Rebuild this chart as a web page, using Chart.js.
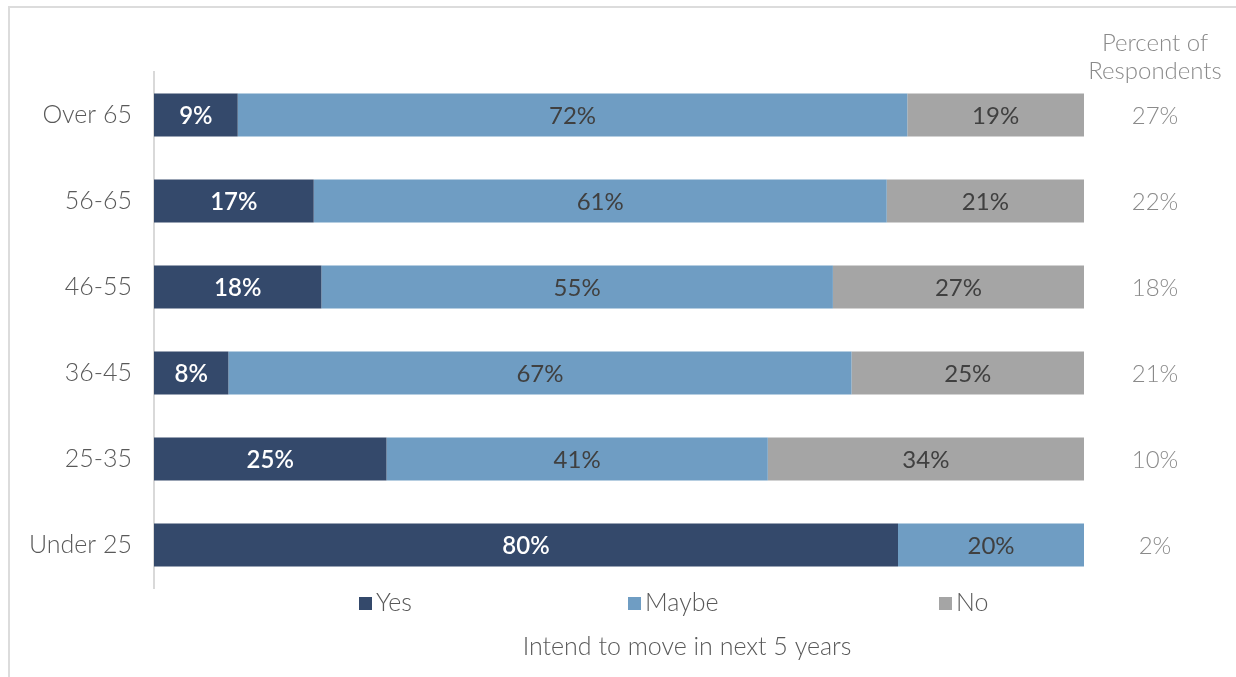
<!DOCTYPE html>
<html>
<head>
<meta charset="utf-8">
<script src="https://cdn.jsdelivr.net/npm/chart.js@4.4.0/dist/chart.umd.min.js"></script>
<style>
  html, body { margin: 0; padding: 0; background: #fff; }
  #wrap {
    position: absolute; left: 8px; top: 6px; width: 1228px; height: 671px;
    border-left: 2px solid #dcdcdc; border-top: 2px solid #dcdcdc; box-sizing: border-box;
  }
  canvas { display: block; }
</style>
</head>
<body>
<div id="wrap"><canvas id="move-chart"></canvas></div>
<script>
const ageGroups = ["Over 65", "56-65", "46-55", "36-45", "25-35", "Under 25"];
const yes = [9, 17, 18, 8, 25, 80];
const maybe = [72, 61, 55, 67, 41, 20];
const no = [19, 21, 27, 25, 34, 0];
const respondents = [27, 22, 18, 21, 10, 2];

const FONT = "Lato, 'Open Sans', sans-serif";

// each row is drawn as its share of 100 so all bars end together
const rowTotals = ageGroups.map((_, i) => yes[i] + maybe[i] + no[i]);
const norm = (arr) => arr.map((v, i) => (v / rowTotals[i]) * 100);

const series = [
  { label: "Yes", raw: yes, color: "#34496b", text: "#ffffff", weight: "600" },
  { label: "Maybe", raw: maybe, color: "#6f9dc3", text: "#404040", weight: "normal" },
  { label: "No", raw: no, color: "#a5a5a5", text: "#404040", weight: "normal" },
];

const extras = {
  id: "extras",
  afterDatasetsDraw(chart) {
    const ctx = chart.ctx;
    const y = chart.scales.y;
    ctx.save();
    ctx.textBaseline = "middle";
    ctx.textAlign = "center";

    // labels inside the bar segments
    chart.data.datasets.forEach((ds, di) => {
      const meta = chart.getDatasetMeta(di);
      meta.data.forEach((bar, i) => {
        const v = series[di].raw[i];
        if (!v) return;
        ctx.fillStyle = series[di].text;
        ctx.font = series[di].weight + " 24px " + FONT;
        ctx.fillText(v + "%", (bar.x + bar.base) / 2, bar.y + 1);
      });
    });

    // percent of respondents column
    ctx.fillStyle = "#8a8a8a";
    ctx.font = "300 24px " + FONT;
    const cx = chart.chartArea.right + 71;
    ctx.fillText("Percent of", cx, 35);
    ctx.fillText("Respondents", cx, 63);
    respondents.forEach((v, i) => {
      ctx.fillText(v + "%", cx, y.getPixelForValue(i) + 1);
    });

    // legend
    const legendX = [349, 618, 929];
    ctx.textAlign = "left";
    ctx.font = "300 25px " + FONT;
    series.forEach((s, i) => {
      ctx.fillStyle = s.color;
      ctx.fillRect(legendX[i], 589, 13, 13);
      ctx.fillStyle = "#595959";
      ctx.fillText(s.label, legendX[i] + 17, 595);
    });

    // axis caption
    ctx.textAlign = "center";
    ctx.font = "300 25px " + FONT;
    ctx.fillText("Intend to move in next 5 years", 677, 639);
    ctx.restore();
  },
};

new Chart(document.getElementById("move-chart"), {
  type: "bar",
  data: {
    labels: ageGroups,
    datasets: series.map((s) => ({
      label: s.label,
      data: norm(s.raw),
      backgroundColor: s.color,
      borderWidth: 0,
      barPercentage: 1,
      categoryPercentage: 0.5,
    })),
  },
  options: {
    indexAxis: "y",
    responsive: true,
    maintainAspectRatio: false,
    animation: false,
    layout: { padding: { top: 64, right: 152, bottom: 89, left: 0 } },
    scales: {
      x: {
        stacked: true,
        min: 0,
        max: 100,
        display: false,
      },
      y: {
        stacked: true,
        grid: { display: false },
        border: { display: true, color: "#d9d9d9", width: 2 },
        ticks: {
          color: "#595959",
          padding: 14,
          font: { family: FONT, size: 25, weight: "300" },
        },
        afterFit(scale) {
          scale.width = 144;
        },
      },
    },
    plugins: {
      legend: { display: false },
      tooltip: { enabled: false },
    },
  },
  plugins: [extras],
});
</script>
</body>
</html>
